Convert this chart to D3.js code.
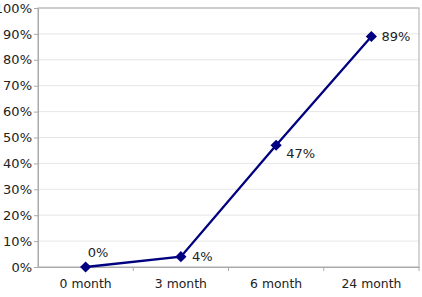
<!DOCTYPE html>
<html><head><meta charset="UTF-8">
<style>
body { margin: 0; background: #fff; }
text { font-family: "DejaVu Sans", sans-serif; font-size: 13px; fill: #222; }
.grid line { stroke: #e6e6e6; }
.line { fill: none; stroke: #000080; stroke-width: 2.3px; }
</style>
</head>
<body>
<svg width="422" height="297"></svg>
<script src="https://cdn.jsdelivr.net/npm/d3@7"></script>
<script>

var categories = ["0 month", "3 month", "6 month", "24 month"];
var values = [0, 0.04, 0.47, 0.89];
var pointLabels = ["0%", "4%", "47%", "89%"];
var yTicks = [0, 0.1, 0.2, 0.3, 0.4, 0.5, 0.6, 0.7, 0.8, 0.9, 1.0];

var svg = d3.select("svg"),
    margin = {top: 8, right: 3, bottom: 30, left: 38},
    width = svg.attr("width") - margin.left - margin.right,
    height = svg.attr("height") - margin.top - margin.bottom,
    g = svg.append("g").attr("transform", "translate(" + margin.left + "," + margin.top + ")");

var x = d3.scaleBand().domain(categories).range([0, width]),
    y = d3.scaleLinear().domain([0, 1]).range([height, 0]);

var data = categories.map(function(c, i) { return {cat: c, v: values[i], label: pointLabels[i]}; });

// gridlines
g.append("g").attr("class", "grid")
  .selectAll("line").data(yTicks.slice(1)).enter().append("line")
    .attr("x1", 0).attr("x2", width)
    .attr("y1", function(d) { return y(d); })
    .attr("y2", function(d) { return y(d); });

// plot border
g.append("rect")
    .attr("width", width).attr("height", height)
    .attr("fill", "none").attr("stroke", "#aaa");

// y axis
var yAxis = g.append("g")
    .call(d3.axisLeft(y).tickValues(yTicks).tickFormat(d3.format(".0%")).tickSize(4).tickPadding(2));
yAxis.select(".domain").attr("stroke", "#aaa");
yAxis.selectAll(".tick line").attr("stroke", "#aaa");
yAxis.selectAll("text").attr("fill", "#222").style("font-size", "13px").style("font-family", "DejaVu Sans");

// x axis
var xAxis = g.append("g")
    .attr("transform", "translate(0," + height + ")")
    .call(d3.axisBottom(x).tickSize(0).tickPadding(12));
xAxis.select(".domain").attr("stroke", "#aaa");
xAxis.selectAll("text").attr("fill", "#222").style("font-size", "12.4px").style("font-family", "DejaVu Sans");
xAxis.selectAll(".sep").data(categories).enter().append("line")
    .attr("class", "sep")
    .attr("x1", function(d) { return x(d) + x.bandwidth(); })
    .attr("x2", function(d) { return x(d) + x.bandwidth(); })
    .attr("y1", 0).attr("y2", 4)
    .attr("stroke", "#aaa");

var cx = function(d) { return x(d.cat) + x.bandwidth() / 2; };

var line = d3.line()
    .x(cx)
    .y(function(d) { return y(d.v); });

g.append("path").datum(data).attr("class", "line").attr("d", line);

g.selectAll(".pt").data(data).enter().append("path")
    .attr("class", "pt")
    .attr("d", d3.symbol().type(d3.symbolDiamond2).size(80))
    .attr("transform", function(d) { return "translate(" + cx(d) + "," + y(d.v) + ")"; })
    .attr("fill", "#000080");

var offs = [[2, -10], [11, 4], [10, 13], [10, 5]];
g.selectAll(".lbl").data(data).enter().append("text")
    .attr("class", "lbl")
    .attr("x", function(d, i) { return cx(d) + offs[i][0]; })
    .attr("y", function(d, i) { return y(d.v) + offs[i][1]; })
    .text(function(d) { return d.label; });

</script>
</body></html>
